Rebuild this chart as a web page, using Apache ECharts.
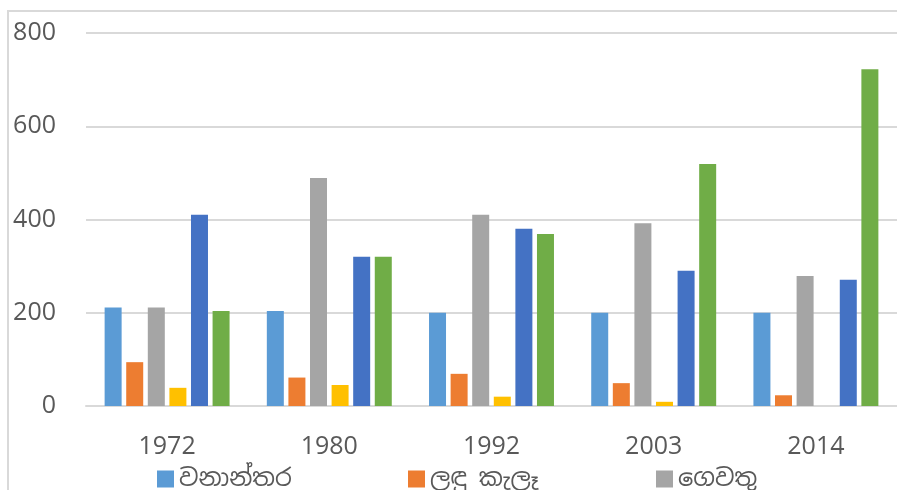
<!DOCTYPE html>
<html>
<head>
<meta charset="utf-8">
<script src="https://cdn.jsdelivr.net/npm/echarts@6/dist/echarts.min.js"></script>
<style>
  html, body { margin: 0; padding: 0; background: #fff; }
  #chart { width: 897px; height: 490px; }
</style>
</head>
<body>
<div id="chart"></div>
<script>
// data
var years = ["1972", "1980", "1992", "2003", "2014"];
var seriesNames = ["වනාන්තර", "ලඳු කැලෑ", "ගෙවතු", "Series 4", "Series 5", "Series 6"];
var legendNames = ["වනාන්තර", "ලඳු කැලෑ", "ගෙවතු"];
var forest = [211, 204, 200, 200, 200];
var scrub = [94, 61, 69, 49, 23];
var homeGardens = [211, 489, 410, 392, 279];
var series4 = [39, 45, 20, 9, 0];
var series5 = [410, 320, 380, 290, 271];
var series6 = [204, 320, 369, 519, 722];
var yTicks = [0, 200, 400, 600, 800];

var colors = ["#5B9BD5", "#ED7D31", "#A5A5A5", "#FFC000", "#4472C4", "#70AD47"];
var allData = [forest, scrub, homeGardens, series4, series5, series6];
var legendLeft = [152, 403, 651];

var chart = echarts.init(document.getElementById("chart"));
var font = "'Open Sans', 'Noto Sans', sans-serif";
var sinhalaFont = "'Noto Sans Sinhala', 'Iskoola Pota', sans-serif";

chart.setOption({
  animation: false,
  color: colors,
  graphic: [{
    type: "rect",
    shape: { x: 8, y: 11, width: 900, height: 490 },
    style: { fill: "none", stroke: "#d9d9d9", lineWidth: 2 },
    z: -1
  }],
  grid: { left: 86, right: -4, top: 33, bottom: 84 },
  // one legend per item so the spacing matches the picture
  legend: legendNames.map(function (n, i) {
    return {
      data: [n],
      left: legendLeft[i],
      top: 462,
      icon: "rect",
      itemWidth: 17,
      itemHeight: 17,
      itemGap: 8,
      textStyle: { fontFamily: sinhalaFont, fontSize: 24, color: "#595959" }
    };
  }),
  xAxis: {
    type: "category",
    data: years,
    axisLine: { lineStyle: { color: "#d9d9d9", width: 2 } },
    axisTick: { show: false },
    axisLabel: { fontFamily: font, fontSize: 25, color: "#595959", margin: 28 }
  },
  yAxis: {
    type: "value",
    min: yTicks[0],
    max: yTicks[yTicks.length - 1],
    interval: 200,
    axisLine: { show: false },
    axisTick: { show: false },
    splitLine: { lineStyle: { color: "#d9d9d9", width: 2 } },
    axisLabel: { fontFamily: font, fontSize: 25, color: "#595959", margin: 30 }
  },
  series: allData.map(function (d, i) {
    return {
      name: seriesNames[i],
      type: "bar",
      data: d,
      barWidth: 17,
      barGap: "27%",
      itemStyle: { color: colors[i] }
    };
  })
});
</script>
</body>
</html>
